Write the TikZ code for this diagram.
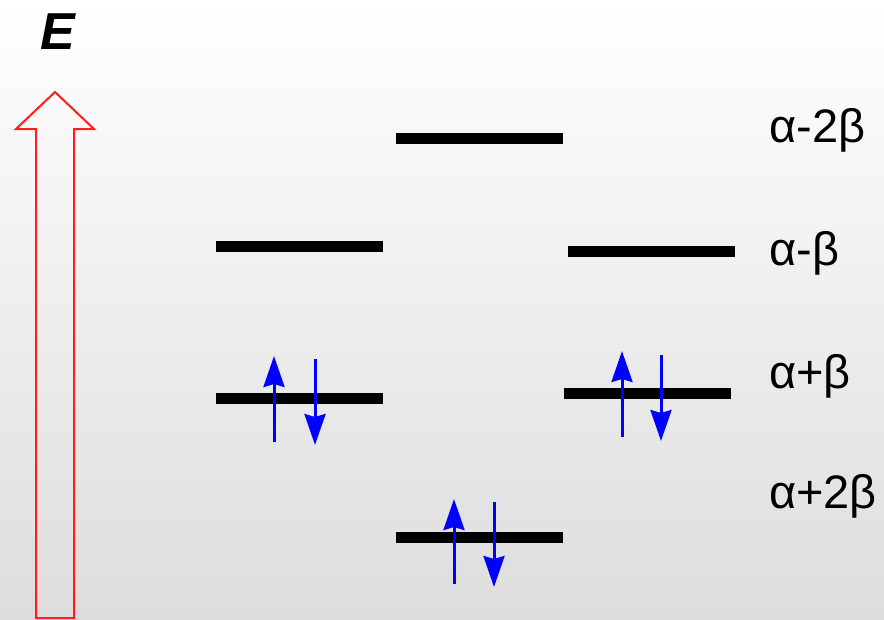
\documentclass[tikz,border=0pt]{standalone}
\usepackage{fontspec}
\setmainfont{Liberation Sans}
\usetikzlibrary{arrows.meta}
\definecolor{bgtop}{RGB}{255,255,255}
\definecolor{bgbot}{RGB}{221,221,221}
\definecolor{ered}{RGB}{255,30,30}
\begin{document}
\begin{tikzpicture}[x=1pt,y=-1pt,
  level/.style={line width=11pt, black},
  spin/.style={line width=3pt, blue, -{Stealth[length=31pt,width=21pt,inset=3pt]}},
  elabel/.style={anchor=base west, inner sep=0pt, font=\fontsize{47}{52}\selectfont},
]
\useasboundingbox (0,0) rectangle (884,619);
\shade[top color=bgtop, bottom color=bgbot] (0,0) rectangle (884,619);
% energy arrow
\node[inner sep=0pt, font=\fontsize{52}{58}\selectfont\bfseries\itshape] (E) at (58,32) {E};
\draw[ered, line width=2pt, line join=miter]
  (36,618) -- (36,129) -- (16,129) -- (55,92) -- (94,129) -- (74,129) -- (74,618) -- cycle;
% levels
\coordinate (t1) at (396,138); \coordinate (t2) at (563,138);
\coordinate (l1) at (216,246); \coordinate (l2) at (383,246);
\coordinate (r1) at (568,251); \coordinate (r2) at (735,251);
\coordinate (lb1) at (216,398); \coordinate (lb2) at (383,398);
\coordinate (rb1) at (564,393); \coordinate (rb2) at (731,393);
\coordinate (b1) at (396,537); \coordinate (b2) at (563,537);
\draw[level] (t1) -- (t2);
\draw[level] (l1) -- (l2);
\draw[level] (r1) -- (r2);
\draw[level] (lb1) -- (lb2);
\draw[level] (rb1) -- (rb2);
\draw[level] (b1) -- (b2);
% electrons
\coordinate (lu1) at (274,442); \coordinate (lu2) at (274,356);
\coordinate (ld1) at (315,359); \coordinate (ld2) at (315,445);
\coordinate (ru1) at (622,437); \coordinate (ru2) at (622,351);
\coordinate (rd1) at (661,355); \coordinate (rd2) at (661,441);
\coordinate (bu1) at (454,584); \coordinate (bu2) at (454,499);
\coordinate (bd1) at (494,502); \coordinate (bd2) at (494,587);
\draw[spin] (lu1) -- (lu2);
\draw[spin] (ld1) -- (ld2);
\draw[spin] (ru1) -- (ru2);
\draw[spin] (rd1) -- (rd2);
\draw[spin] (bu1) -- (bu2);
\draw[spin] (bd1) -- (bd2);
% labels
\node[elabel] (a1) at (769,142) {α-2β};
\node[elabel] (a2) at (769,265) {α-β};
\node[elabel] (a3) at (769,388) {α+β};
\node[elabel] (a4) at (769,508) {α+2β};
\end{tikzpicture}
\end{document}
